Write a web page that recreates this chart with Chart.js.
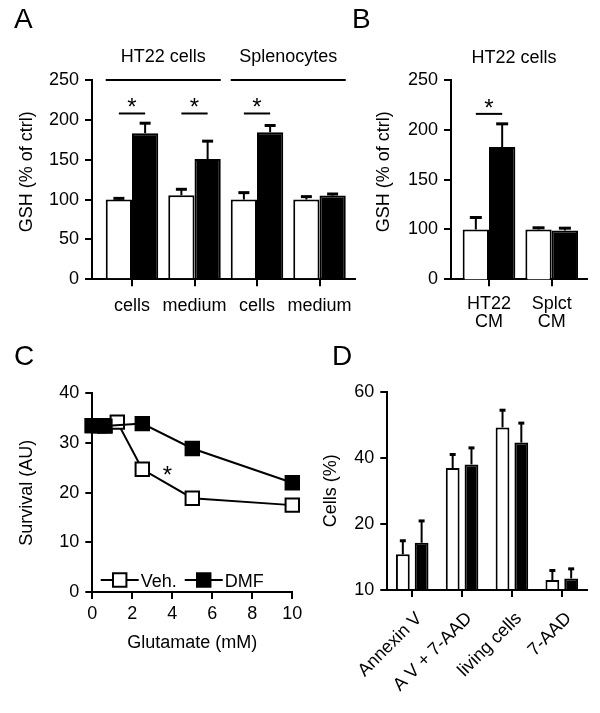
<!DOCTYPE html>
<html>
<head>
<meta charset="utf-8">
<script src="https://cdn.jsdelivr.net/npm/chart.js@4.4.0/dist/chart.umd.min.js"></script>
<style>
  body { margin: 0; background: #fff; }
  #wrap { position: relative; width: 600px; height: 713px; overflow: hidden; }
  canvas { position: absolute; left: 0; top: 0; }
</style>
</head>
<body>
<div id="wrap">
  <canvas id="chartA" width="600" height="713"></canvas>
  <canvas id="chartB" width="600" height="713"></canvas>
  <canvas id="chartC" width="600" height="713"></canvas>
  <canvas id="chartD" width="600" height="713"></canvas>
</div>
<script>
// panel A - GSH in cells / medium
const catsA = ['cells', 'medium', 'cells', 'medium'];
const vehA = [100, 105.4, 100, 100];
const vehErrA = [1.5, 7.5, 8.7, 3.7];
const dmfA = [183.3, 150.8, 184.5, 105];
const dmfErrA = [12.5, 22.5, 8.4, 2];
const groupsA = [{ text: 'HT22 cells', from: 0, to: 1 }, { text: 'Splenocytes', from: 2, to: 3 }];
const sigA = [0, 1, 2];

// panel B - conditioned medium
const catsB = [['HT22', 'CM'], ['Splct', 'CM']];
const vehB = [100, 100];
const vehErrB = [12, 1.7];
const dmfB = [182.7, 99];
const dmfErrB = [23.3, 2.3];
const sigB = [0];
const tickValsB = [50, 100, 150, 200, 250];
const tickLabelsB = ['0', '100', '150', '200', '250'];

// panel C - survival vs glutamate
const glutVeh = [0, 0.31, 0.63, 1.25, 2.5, 5, 10];
const survVeh = [33.5, 33.5, 33.5, 34.2, 24.7, 18.9, 17.5];
const glutDmf = [0, 0.31, 0.63, 2.5, 5, 10];
const survDmf = [33.5, 33.5, 33.4, 33.9, 28.9, 22.0];

// panel D - flow cytometry
const catsD = ['Annexin V', 'A V + 7-AAD', 'living cells', '7-AAD'];
const vehD = [10.8, 36.9, 49.2, 3.0];
const vehErrD = [4.1, 4.1, 5.2, 2.9];
const dmfD = [14.3, 38.0, 44.6, 3.5];
const dmfErrD = [6.6, 5.0, 5.9, 2.9];
const tickValsD = [0, 20, 40, 60];
const tickLabelsD = ['10', '20', '40', '60'];

const FONT = '"Liberation Sans", Arial, sans-serif';
Chart.defaults.font.family = FONT;
Chart.defaults.font.size = 18;
Chart.defaults.color = '#000';
Chart.defaults.animation = false;

function line(ctx, x0, y0, x1, y1) {
  ctx.beginPath();
  ctx.moveTo(x0, y0);
  ctx.lineTo(x1, y1);
  ctx.stroke();
}

// T-shaped error bars (upper only)
const errorBars = {
  id: 'errorBars',
  afterDatasetsDraw(chart, args, opts) {
    const ctx = chart.ctx;
    const y = chart.scales.y;
    ctx.save();
    ctx.strokeStyle = '#000';
    chart.data.datasets.forEach((ds, di) => {
      if (!ds.errors) return;
      chart.getDatasetMeta(di).data.forEach((bar, i) => {
        const d = ds.data[i];
        const v = typeof d === 'object' ? d.y : d;
        const top = y.getPixelForValue(v + ds.errors[i]);
        ctx.lineWidth = 2;
        line(ctx, bar.x, bar.y, bar.x, top);
        ctx.lineWidth = 3;
        line(ctx, bar.x - opts.cap / 2, top, bar.x + opts.cap / 2, top);
      });
    });
    ctx.restore();
  }
};

// brackets, asterisks, legends and free text
const notes = {
  id: 'notes',
  afterDraw(chart, args, o) {
    const ctx = chart.ctx;
    const x = chart.scales.x, y = chart.scales.y;
    ctx.save();
    ctx.fillStyle = '#000';
    ctx.strokeStyle = '#000';
    ctx.lineWidth = 2;
    ctx.textAlign = 'center';
    ctx.textBaseline = 'alphabetic';
    const b0 = chart.getDatasetMeta(0).data;
    const b1 = chart.data.datasets.length > 1 ? chart.getDatasetMeta(1).data : [];
    (o.groups || []).forEach(g => {
      const py = y.getPixelForValue(o.groupAt);
      const x0 = b0[g.from].x - b0[g.from].width / 2;
      const x1 = b1[g.to].x + b1[g.to].width / 2;
      line(ctx, x0, py, x1, py);
      ctx.font = '18px ' + FONT;
      ctx.fillText(g.text, (x0 + x1) / 2, py - 18);
    });
    (o.sig || []).forEach(i => {
      const py = y.getPixelForValue(o.sigAt);
      line(ctx, b0[i].x, py, b1[i].x, py);
      ctx.font = '24px ' + FONT;
      ctx.fillText('*', (b0[i].x + b1[i].x) / 2, py + 2);
    });
    (o.stars || []).forEach(s => {
      ctx.font = '24px ' + FONT;
      ctx.fillText('*', x.getPixelForValue(s.x), y.getPixelForValue(s.y));
    });
    if (o.legend) {
      let lx = o.legend.x;
      const ly = o.legend.y;
      o.legend.items.forEach(it => {
        line(ctx, lx, ly, lx + 38, ly);
        ctx.fillStyle = it.fill;
        Chart.helpers.drawPoint(ctx, { pointStyle: 'rect', radius: 9.5, borderWidth: 2, rotation: 0 }, lx + 19, ly);
        ctx.fillStyle = '#000';
        ctx.font = '18px ' + FONT;
        ctx.textAlign = 'left';
        ctx.fillText(it.label, lx + 40, ly + 6.5);
        lx += 40 + ctx.measureText(it.label).width + 8;
      });
      ctx.textAlign = 'center';
    }
    (o.texts || []).forEach(t => {
      ctx.save();
      ctx.font = t.font + ' ' + FONT;
      ctx.textAlign = t.align || 'center';
      ctx.translate(t.x, t.y);
      if (t.rot) ctx.rotate(t.rot);
      ctx.textBaseline = t.rot ? 'middle' : 'alphabetic';
      ctx.fillText(t.text, 0, 0);
      ctx.restore();
    });
    ctx.restore();
  }
};

const grid = { display: true, drawOnChartArea: false, drawTicks: true, tickLength: 7, color: '#000', lineWidth: 2, offset: false };
const border = { display: true, color: '#000', width: 2 };

function barSet(vals, errs, fill, asXY) {
  return {
    data: asXY ? vals.map((v, i) => ({ x: i, y: v })) : vals,
    errors: errs,
    backgroundColor: fill,
    borderColor: '#000',
    borderWidth: 2
  };
}

// ---------- A ----------
new Chart(document.getElementById('chartA'), {
  type: 'bar',
  data: { datasets: [barSet(vehA, vehErrA, '#fff', true), barSet(dmfA, dmfErrA, '#000', true)] },
  options: {
    responsive: false,
    layout: { padding: { left: 32, right: 245, top: 80, bottom: 383.7 } },
    datasets: { bar: { categoryPercentage: 0.84, barPercentage: 1.0 } },
    plugins: {
      legend: { display: false }, tooltip: { enabled: false },
      errorBars: { cap: 11 },
      notes: {
        groups: groupsA, groupAt: 250, sig: sigA, sigAt: 208,
        texts: [
          { text: 'A', x: 14, y: 28.3, font: '28px' , align: 'left' },
          { text: 'B', x: 352, y: 28.3, font: '28px', align: 'left' },
          { text: 'GSH (% of ctrl)', x: 26.7, y: 171.7, font: '18px', rot: -Math.PI / 2 }
        ]
      }
    },
    scales: {
      x: {
        type: 'linear', min: -0.64, max: 3.568, offset: false, bounds: 'data',
        grid, border,
        afterBuildTicks: s => { s.ticks = catsA.map((c, i) => ({ value: i })); },
        afterFit: s => { s.height = 50; },
        ticks: { autoSkip: false, maxRotation: 0, padding: 9, callback: (v, i) => catsA[i] }
      },
      y: {
        min: 0, max: 250, grid, border,
        afterFit: s => { s.width = 60; },
        ticks: { stepSize: 50, padding: 6 }
      }
    }
  },
  plugins: [errorBars, notes]
});

// ---------- B ----------
new Chart(document.getElementById('chartB'), {
  type: 'bar',
  data: { datasets: [barSet(vehB, vehErrB, '#fff', true), barSet(dmfB, dmfErrB, '#000', true)] },
  options: {
    responsive: false,
    layout: { padding: { left: 391, right: 13.3, top: 80, bottom: 383.7 } },
    datasets: { bar: { categoryPercentage: 0.84, barPercentage: 1.0 } },
    plugins: {
      legend: { display: false }, tooltip: { enabled: false },
      errorBars: { cap: 12 },
      notes: {
        sig: sigB, sigAt: 216,
        texts: [
          { text: 'HT22 cells', x: 514, y: 63, font: '18px' },
          { text: 'GSH (% of ctrl)', x: 384, y: 171.7, font: '18px', rot: -Math.PI / 2 }
        ]
      }
    },
    scales: {
      x: {
        type: 'linear', min: -0.606, max: 1.558, offset: false, bounds: 'data',
        grid, border,
        afterBuildTicks: s => { s.ticks = catsB.map((c, i) => ({ value: i })); },
        afterFit: s => { s.height = 50; },
        ticks: { autoSkip: false, maxRotation: 0, padding: 9, font: { lineHeight: 1.0 }, callback: (v, i) => catsB[i] }
      },
      y: {
        min: 50, max: 250, grid, border,
        afterBuildTicks: s => { s.ticks = tickValsB.map(v => ({ value: v })); },
        afterFit: s => { s.width = 60; },
        ticks: { padding: 6, callback: (v, i) => tickLabelsB[i] }
      }
    }
  },
  plugins: [errorBars, notes]
});

// ---------- C ----------
const pointStyleC = { pointStyle: 'rect', pointRadius: 9.5, pointBorderWidth: 2, pointBorderColor: '#000', borderColor: '#000', borderWidth: 2, clip: false };
new Chart(document.getElementById('chartC'), {
  type: 'line',
  data: {
    datasets: [
      Object.assign({ label: 'DMF', order: 0, data: glutDmf.map((g, i) => ({ x: g, y: survDmf[i] })), pointBackgroundColor: '#000' }, pointStyleC),
      Object.assign({ label: 'Veh.', order: 1, data: glutVeh.map((g, i) => ({ x: g, y: survVeh[i] })), pointBackgroundColor: '#fff' }, pointStyleC)
    ]
  },
  options: {
    responsive: false,
    layout: { padding: { left: 15.9, right: 307.7, top: 393.3, bottom: 58.9 } },
    plugins: {
      legend: { display: false }, tooltip: { enabled: false },
      notes: {
        stars: [{ x: 3.75, y: 21.9 }],
        legend: { x: 100.7, y: 580, items: [{ label: 'Veh.', fill: '#fff' }, { label: 'DMF', fill: '#000' }] },
        texts: [
          { text: 'C', x: 14, y: 365, font: '28px', align: 'left' },
          { text: 'D', x: 332, y: 365, font: '28px', align: 'left' }
        ]
      }
    },
    scales: {
      x: {
        type: 'linear', min: 0, max: 10, grid, border,
        afterFit: s => { s.height = 62; },
        ticks: { stepSize: 2, padding: 4, maxRotation: 0 },
        title: { display: true, text: 'Glutamate (mM)', padding: 0, font: { size: 18 } }
      },
      y: {
        min: 0, max: 40, grid, border,
        afterFit: s => { s.width = 76.4; },
        ticks: { stepSize: 10, padding: 6 },
        title: { display: true, text: 'Survival (AU)', padding: 0, font: { size: 18 } }
      }
    }
  },
  plugins: [notes]
});

// ---------- D ----------
new Chart(document.getElementById('chartD'), {
  type: 'bar',
  data: { labels: catsD, datasets: [barSet(vehD, vehErrD, '#fff', false), barSet(dmfD, dmfErrD, '#000', false)] },
  options: {
    responsive: false,
    layout: { padding: { left: 320.2, right: 13.3, top: 391.7, bottom: 13 } },
    datasets: { bar: { categoryPercentage: 0.754, barPercentage: 0.734 } },
    plugins: {
      legend: { display: false }, tooltip: { enabled: false },
      errorBars: { cap: 6 }
    },
    scales: {
      x: {
        grid, border,
        afterFit: s => { s.height = 110; },
        ticks: { autoSkip: false, minRotation: 45, maxRotation: 45, padding: 11, labelOffset: 7 }
      },
      y: {
        min: 0, max: 60, grid, border,
        afterBuildTicks: s => { s.ticks = tickValsD.map(v => ({ value: v })); },
        afterFit: s => { s.width = 67.1; },
        ticks: { padding: 6, callback: (v, i) => tickLabelsD[i] },
        title: { display: true, text: 'Cells (%)', padding: 0, font: { size: 18 } }
      }
    }
  },
  plugins: [errorBars]
});
</script>
</body>
</html>
